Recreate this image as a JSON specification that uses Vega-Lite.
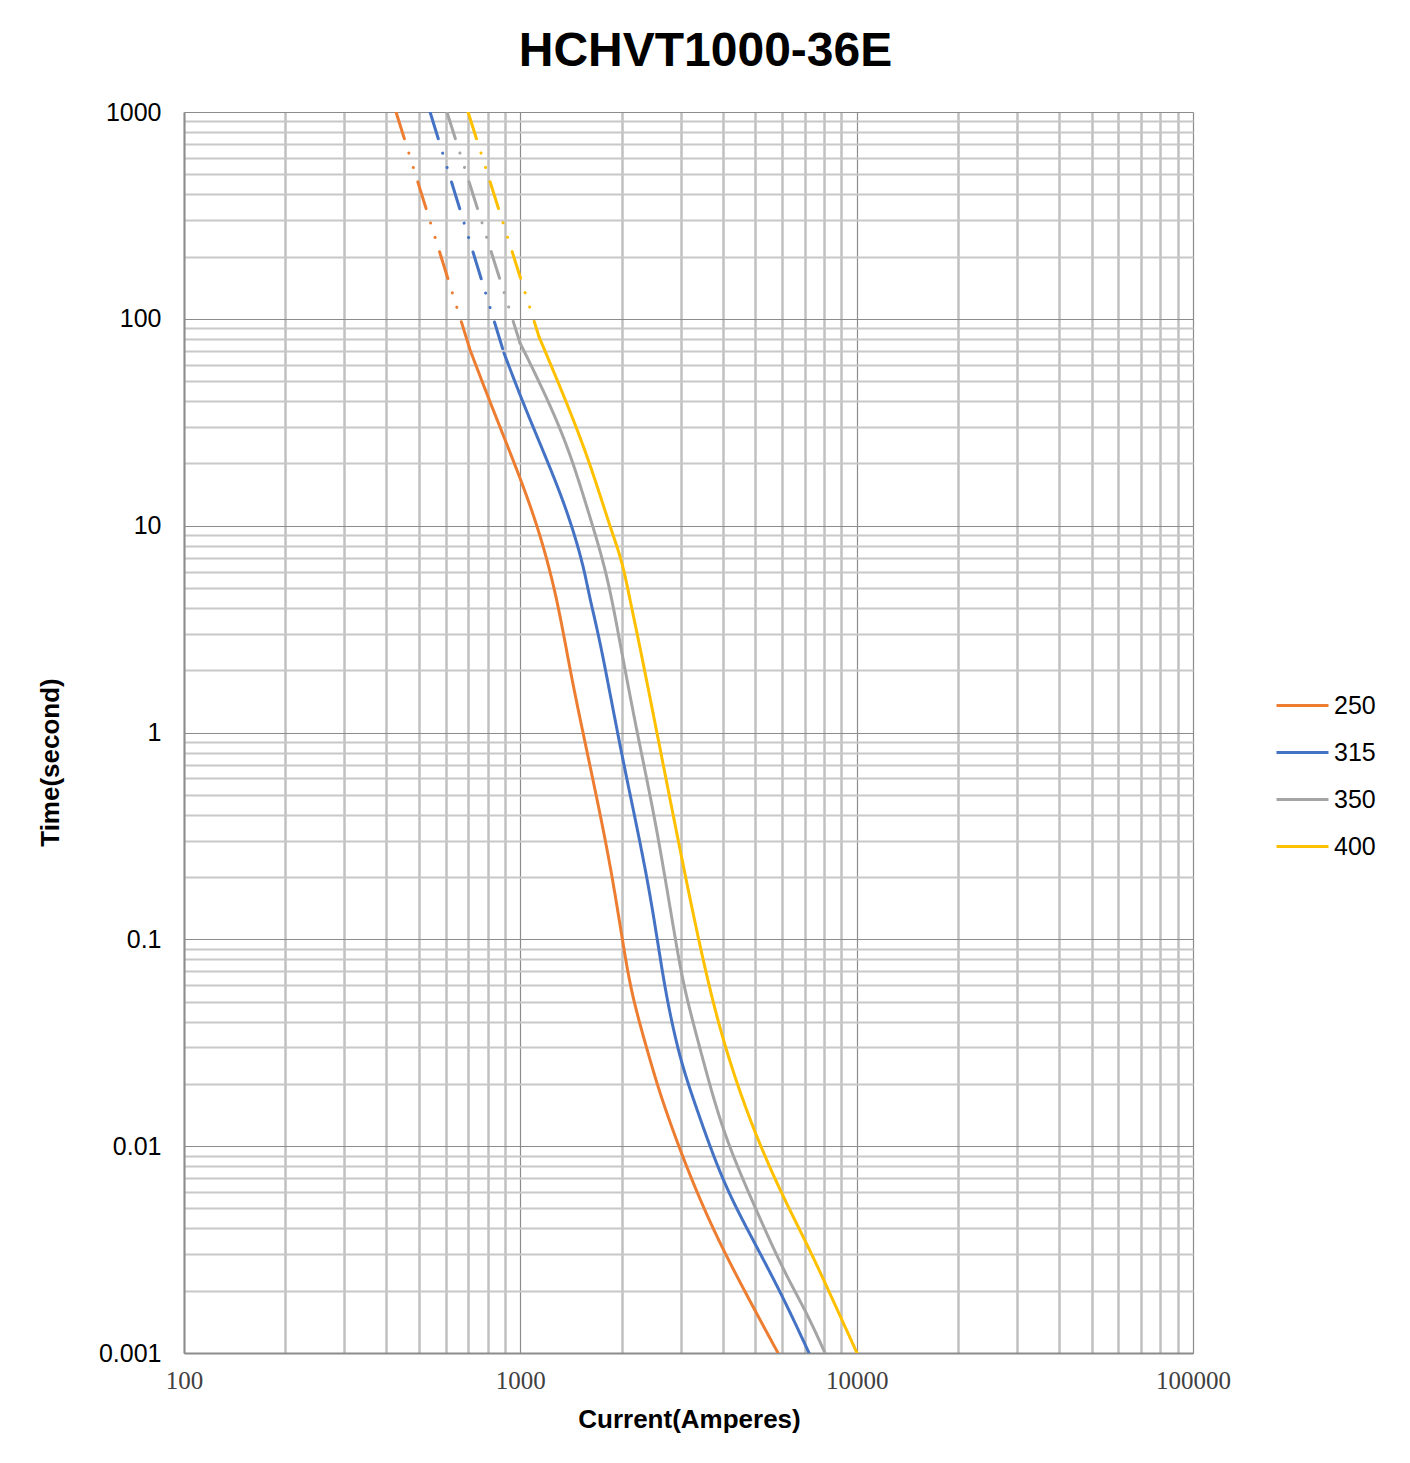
{
  "$schema": "https://vega.github.io/schema/vega-lite/v6.json",
  "autosize": {"type": "none"},
  "width": 1009,
  "height": 1241,
  "padding": {"left": 184, "top": 112, "right": 217, "bottom": 110},
  "background": "white",
  "config": {"view": {"stroke": null}, "font": "Liberation Sans"},
  "title": {
    "text": "HCHVT1000-36E",
    "font": "Liberation Sans",
    "fontSize": 48,
    "fontWeight": "bold",
    "color": "#000000",
    "anchor": "middle",
    "dx": 17,
    "offset": 24
  },
  "data": {
    "values": [
      {"fuse": "250", "segment": "dashed", "current": 427, "time": 1000},
      {"fuse": "250", "segment": "dashed", "current": 709, "time": 70.7},
      {"fuse": "250", "segment": "solid", "current": 709, "time": 70.7},
      {"fuse": "250", "segment": "solid", "current": 812, "time": 39.6},
      {"fuse": "250", "segment": "solid", "current": 998, "time": 17.2},
      {"fuse": "250", "segment": "solid", "current": 1144, "time": 9.21},
      {"fuse": "250", "segment": "solid", "current": 1285, "time": 4.52},
      {"fuse": "250", "segment": "solid", "current": 1405, "time": 2.0},
      {"fuse": "250", "segment": "solid", "current": 1536, "time": 0.994},
      {"fuse": "250", "segment": "solid", "current": 1726, "time": 0.408},
      {"fuse": "250", "segment": "solid", "current": 1886, "time": 0.1935},
      {"fuse": "250", "segment": "solid", "current": 2048, "time": 0.0821},
      {"fuse": "250", "segment": "solid", "current": 2163, "time": 0.0509},
      {"fuse": "250", "segment": "solid", "current": 2429, "time": 0.0261},
      {"fuse": "250", "segment": "solid", "current": 2638, "time": 0.0167},
      {"fuse": "250", "segment": "solid", "current": 2984, "time": 0.00958},
      {"fuse": "250", "segment": "solid", "current": 3421, "time": 0.00549},
      {"fuse": "250", "segment": "solid", "current": 4005, "time": 0.00315},
      {"fuse": "250", "segment": "solid", "current": 4919, "time": 0.00167},
      {"fuse": "250", "segment": "solid", "current": 5836, "time": 0.001},

      {"fuse": "315", "segment": "dashed", "current": 539, "time": 1000},
      {"fuse": "315", "segment": "dashed", "current": 894, "time": 68.4},
      {"fuse": "315", "segment": "solid", "current": 894, "time": 68.4},
      {"fuse": "315", "segment": "solid", "current": 1018, "time": 39.2},
      {"fuse": "315", "segment": "solid", "current": 1200, "time": 20.8},
      {"fuse": "315", "segment": "solid", "current": 1376, "time": 11.9},
      {"fuse": "315", "segment": "solid", "current": 1536, "time": 6.6},
      {"fuse": "315", "segment": "solid", "current": 1611, "time": 4.37},
      {"fuse": "315", "segment": "solid", "current": 1726, "time": 2.8},
      {"fuse": "315", "segment": "solid", "current": 1979, "time": 0.851},
      {"fuse": "315", "segment": "solid", "current": 2223, "time": 0.349},
      {"fuse": "315", "segment": "solid", "current": 2429, "time": 0.1675},
      {"fuse": "315", "segment": "solid", "current": 2602, "time": 0.0821},
      {"fuse": "315", "segment": "solid", "current": 2730, "time": 0.0509},
      {"fuse": "315", "segment": "solid", "current": 2984, "time": 0.0261},
      {"fuse": "315", "segment": "solid", "current": 3352, "time": 0.01496},
      {"fuse": "315", "segment": "solid", "current": 4005, "time": 0.00663},
      {"fuse": "315", "segment": "solid", "current": 4919, "time": 0.00352},
      {"fuse": "315", "segment": "solid", "current": 6039, "time": 0.00187},
      {"fuse": "315", "segment": "solid", "current": 7217, "time": 0.001},

      {"fuse": "350", "segment": "dashed", "current": 605, "time": 1000},
      {"fuse": "350", "segment": "dashed", "current": 998, "time": 76.4},
      {"fuse": "350", "segment": "solid", "current": 998, "time": 76.4},
      {"fuse": "350", "segment": "solid", "current": 1144, "time": 48.9},
      {"fuse": "350", "segment": "solid", "current": 1376, "time": 25.1},
      {"fuse": "350", "segment": "solid", "current": 1578, "time": 12.3},
      {"fuse": "350", "segment": "solid", "current": 1762, "time": 6.82},
      {"fuse": "350", "segment": "solid", "current": 1874, "time": 4.37},
      {"fuse": "350", "segment": "solid", "current": 1979, "time": 2.71},
      {"fuse": "350", "segment": "solid", "current": 2223, "time": 0.994},
      {"fuse": "350", "segment": "solid", "current": 2549, "time": 0.349},
      {"fuse": "350", "segment": "solid", "current": 2943, "time": 0.0821},
      {"fuse": "350", "segment": "solid", "current": 3130, "time": 0.0509},
      {"fuse": "350", "segment": "solid", "current": 3493, "time": 0.0261},
      {"fuse": "350", "segment": "solid", "current": 4005, "time": 0.01158},
      {"fuse": "350", "segment": "solid", "current": 4919, "time": 0.00531},
      {"fuse": "350", "segment": "solid", "current": 6039, "time": 0.00252},
      {"fuse": "350", "segment": "solid", "current": 7117, "time": 0.00156},
      {"fuse": "350", "segment": "solid", "current": 8051, "time": 0.001},

      {"fuse": "400", "segment": "dashed", "current": 699, "time": 1000},
      {"fuse": "400", "segment": "dashed", "current": 1137, "time": 81.7},
      {"fuse": "400", "segment": "solid", "current": 1137, "time": 81.7},
      {"fuse": "400", "segment": "solid", "current": 1376, "time": 39.2},
      {"fuse": "400", "segment": "solid", "current": 1611, "time": 20.1},
      {"fuse": "400", "segment": "solid", "current": 1848, "time": 9.85},
      {"fuse": "400", "segment": "solid", "current": 2006, "time": 6.82},
      {"fuse": "400", "segment": "solid", "current": 2119, "time": 4.37},
      {"fuse": "400", "segment": "solid", "current": 2269, "time": 2.59},
      {"fuse": "400", "segment": "solid", "current": 2549, "time": 0.994},
      {"fuse": "400", "segment": "solid", "current": 2984, "time": 0.27},
      {"fuse": "400", "segment": "solid", "current": 3468, "time": 0.0821},
      {"fuse": "400", "segment": "solid", "current": 4005, "time": 0.0315},
      {"fuse": "400", "segment": "solid", "current": 4919, "time": 0.01197},
      {"fuse": "400", "segment": "solid", "current": 6039, "time": 0.00568},
      {"fuse": "400", "segment": "solid", "current": 7266, "time": 0.00315},
      {"fuse": "400", "segment": "solid", "current": 8502, "time": 0.0018},
      {"fuse": "400", "segment": "solid", "current": 10023, "time": 0.001}
    ]
  },
  "mark": {"type": "line", "strokeWidth": 3, "strokeCap": "round", "interpolate": "basis", "clip": true},
  "encoding": {
    "x": {
      "field": "current",
      "type": "quantitative",
      "scale": {"type": "log", "domain": [100, 100000], "nice": false},
      "axis": {
        "values": [100, 200, 300, 400, 500, 600, 700, 800, 900, 1000, 2000, 3000, 4000, 5000, 6000, 7000, 8000, 9000, 10000, 20000, 30000, 40000, 50000, 60000, 70000, 80000, 90000, 100000],
        "labelExpr": "indexof([100,1000,10000,100000], datum.value) >= 0 ? format(datum.value, 'd') : ''",
        "labelOverlap": false,
        "labelFont": "Liberation Serif",
        "labelFontSize": 25,
        "labelColor": "#404040",
        "labelPadding": 15,
        "labelFlush": false,
        "ticks": false,
        "domainColor": "#8c8c8c",
        "domainWidth": 2,
        "grid": true,
        "gridColor": {"condition": {"test": "indexof([100,1000,10000,100000], datum.value) >= 0", "value": "#8c8c8c"}, "value": "#c0c0c0"},
        "gridWidth": {"condition": {"test": "indexof([100,1000,10000,100000], datum.value) >= 0", "value": 1.2}, "value": 2.5},
        "title": "Current(Amperes)",
        "titleFont": "Liberation Sans",
        "titleFontSize": 26,
        "titleFontWeight": "bold",
        "titleColor": "#000000",
        "titleX": 505,
        "titleY": 66,
        "titleBaseline": "middle"
      }
    },
    "y": {
      "field": "time",
      "type": "quantitative",
      "scale": {"type": "log", "domain": [0.001, 1000], "nice": false},
      "axis": {
        "values": [0.001, 0.002, 0.003, 0.004, 0.005, 0.006, 0.007, 0.008, 0.009, 0.01, 0.02, 0.03, 0.04, 0.05, 0.06, 0.07, 0.08, 0.09, 0.1, 0.2, 0.3, 0.4, 0.5, 0.6, 0.7, 0.8, 0.9, 1, 2, 3, 4, 5, 6, 7, 8, 9, 10, 20, 30, 40, 50, 60, 70, 80, 90, 100, 200, 300, 400, 500, 600, 700, 800, 900, 1000],
        "labelExpr": "indexof([0.001,0.01,0.1,1,10,100,1000], datum.value) >= 0 ? format(datum.value, '~g') : ''",
        "labelOverlap": false,
        "labelFont": "Liberation Sans",
        "labelFontSize": 25,
        "labelColor": "#000000",
        "labelPadding": 23,
        "labelFlush": false,
        "ticks": false,
        "domainColor": "#8c8c8c",
        "domainWidth": 2,
        "grid": true,
        "gridColor": {"condition": {"test": "indexof([0.001,0.01,0.1,1,10,100,1000], datum.value) >= 0", "value": "#8c8c8c"}, "value": "#c8c8c8"},
        "gridWidth": {"condition": {"test": "indexof([0.001,0.01,0.1,1,10,100,1000], datum.value) >= 0", "value": 1.2}, "value": 1.8},
        "title": "Time(second)",
        "titleFont": "Liberation Sans",
        "titleFontSize": 26,
        "titleFontWeight": "bold",
        "titleColor": "#000000",
        "titleX": -134,
        "titleY": 650,
        "titleAngle": -90,
        "titleBaseline": "middle",
        "titleAlign": "center"
      }
    },
    "color": {
      "field": "fuse",
      "type": "nominal",
      "scale": {"domain": ["250", "315", "350", "400"], "range": ["#ED7D31", "#4472C4", "#A5A5A5", "#FFC000"]},
      "legend": {
        "title": null,
        "orient": "none",
        "legendX": 1091,
        "legendY": 566,
        "symbolType": "stroke",
        "symbolSize": 2700,
        "symbolStrokeWidth": 3,
        "labelFont": "Liberation Sans",
        "labelFontSize": 25,
        "labelColor": "#000000",
        "labelOffset": 4,
        "rowPadding": 6
      }
    },
    "strokeDash": {
      "field": "segment",
      "type": "nominal",
      "scale": {"domain": ["dashed", "solid"], "range": [[28, 15, 0.1, 15, 0.1, 15], [1, 0]]},
      "legend": null
    }
  }
}
